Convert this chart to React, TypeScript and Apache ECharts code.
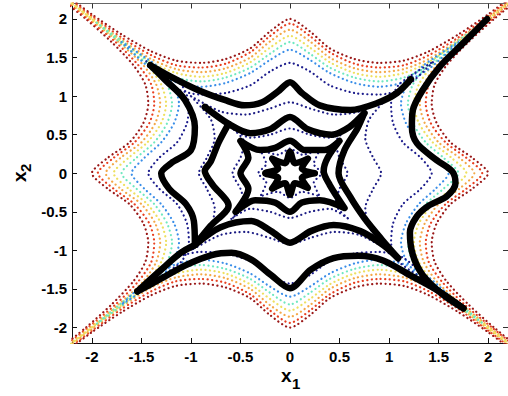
import React, { useEffect, useRef } from "react";
import * as echarts from "echarts";

// ---- tick labels ----
const xTicks = [-2, -1.5, -1, -0.5, 0, 0.5, 1, 1.5, 2];
const yTicks = [-2, -1.5, -1, -0.5, 0, 0.5, 1, 1.5, 2];

// ---- dotted level curves: one quarter-side profile [offset, distance] ----
const level1 = [[0, 2.0], [0.2, 1.84], [0.4, 1.62], [0.65, 1.48], [0.9, 1.43], [1.15, 1.46], [1.4, 1.58], [1.7, 1.8], [2.0, 2.06], [2.3, 2.35], [2.8, 2.85]];
const level2 = [[0, 1.94], [0.2, 1.78], [0.4, 1.57], [0.65, 1.42], [0.9, 1.37], [1.15, 1.4], [1.4, 1.53], [1.7, 1.76], [2.0, 2.04], [2.3, 2.33], [2.8, 2.83]];
const level3 = [[0, 1.86], [0.2, 1.71], [0.4, 1.5], [0.65, 1.36], [0.9, 1.31], [1.15, 1.35], [1.4, 1.48], [1.7, 1.73], [2.0, 2.02], [2.3, 2.31], [2.8, 2.81]];
const level4 = [[0, 1.78], [0.2, 1.63], [0.4, 1.44], [0.65, 1.3], [0.9, 1.25], [1.15, 1.3], [1.4, 1.44], [1.7, 1.71], [2.0, 2.0], [2.3, 2.3]];
const level5 = [[0, 1.7], [0.2, 1.55], [0.4, 1.37], [0.65, 1.24], [0.9, 1.19], [1.15, 1.24], [1.4, 1.39], [1.7, 1.68], [1.95, 1.95]];
const level6 = [[0, 1.6], [0.2, 1.47], [0.4, 1.3], [0.65, 1.17], [0.9, 1.12], [1.15, 1.18], [1.4, 1.35], [1.7, 1.7]];
const level7 = [[0, 1.43], [0.2, 1.32], [0.4, 1.14], [0.65, 1.04], [0.9, 1.02], [1.15, 1.1], [1.45, 1.45]];
const level8 = [[0, 0.92], [0.2, 0.84], [0.45, 0.76], [0.7, 0.8], [1.0, 1.0]];
const level9 = [[0, 0.58], [0.2, 0.5], [0.4, 0.46], [0.6, 0.6]];
const level10 = [[0, 0.32], [0.12, 0.24], [0.3, 0.3]];
const levelProfiles = [level1, level2, level3, level4, level5, level6, level7, level8, level9, level10];
const levelColors = ["#9a1818", "#e84020", "#f4a848", "#eee060", "#70e8c0", "#3a8ee8", "#1c1c8c", "#1c1c84", "#1c1c84", "#1c1c84"];

// ---- thick black trajectory pieces [x1, x2] ----
const blackRight = [[1.99, 2.0], [1.75, 1.69], [1.51, 1.38], [1.34, 1.08], [1.24, 0.82], [1.23, 0.6], [1.28, 0.39], [1.48, 0.17], [1.64, 0.02], [1.67, -0.13], [1.58, -0.3], [1.4, -0.42], [1.28, -0.56], [1.21, -0.77], [1.24, -1.06], [1.34, -1.32], [1.54, -1.57], [1.75, -1.75]];
const blackBottom = [[1.75, -1.75], [1.49, -1.52], [1.21, -1.32], [0.94, -1.13], [0.69, -1.07], [0.44, -1.1], [0.21, -1.25], [0, -1.49], [-0.19, -1.32], [-0.39, -1.12], [-0.59, -1.03], [-0.79, -1.06], [-1.05, -1.19], [-1.32, -1.38], [-1.54, -1.53]];
const blackDiag = [[-1.54, -1.53], [-1.3, -1.25], [-1.1, -1.03], [-0.96, -0.93]];
const blackLeft = [[-1.41, 1.4], [-1.26, 1.21], [-1.06, 0.95], [-0.96, 0.6], [-1.0, 0.3], [-1.2, 0.13], [-1.3, 0.0], [-1.22, -0.2], [-1.05, -0.4], [-0.97, -0.62], [-0.96, -0.93]];
const blackTop = [[-1.41, 1.4], [-1.2, 1.25], [-0.93, 1.08], [-0.66, 0.95], [-0.46, 0.88], [-0.28, 0.92], [-0.12, 1.06], [0, 1.18], [0.12, 1.04], [0.3, 0.88], [0.61, 0.82], [0.88, 0.91], [1.08, 1.04], [1.22, 1.22]];
const loop2Top = [[-0.86, 0.86], [-0.62, 0.64], [-0.4, 0.52], [-0.2, 0.57], [0, 0.73], [0.18, 0.57], [0.42, 0.5], [0.6, 0.6], [0.75, 0.78]];
const loop2Left = [[-0.62, 0.64], [-0.72, 0.4], [-0.8, 0.15], [-0.86, 0.03], [-0.78, -0.15], [-0.62, -0.42], [-0.8, -0.68], [-0.96, -0.93]];
const loop2Bottom = [[-0.96, -0.93], [-0.7, -0.7], [-0.39, -0.62], [-0.19, -0.75], [0, -0.9], [0.21, -0.75], [0.44, -0.67], [0.71, -0.75], [0.94, -0.93], [1.09, -1.1]];
const loop2Right = [[0.75, 0.78], [0.68, 0.58], [0.55, 0.3], [0.49, 0.0], [0.61, -0.31], [0.75, -0.58], [0.92, -0.85], [1.09, -1.1]];
const loop3 = [[-0.5, 0.42], [-0.3, 0.3], [-0.15, 0.33], [0, 0.42], [0.15, 0.3], [0.35, 0.3], [0.5, 0.42], [0.38, 0.2], [0.34, 0.03], [0.4, -0.15], [0.55, -0.45], [0.3, -0.35], [0.12, -0.38], [0, -0.5], [-0.15, -0.38], [-0.35, -0.35], [-0.55, -0.5], [-0.42, -0.2], [-0.5, 0.0], [-0.42, 0.2], [-0.5, 0.42]];
const innerStar = [[0.25, 0.0], [0.12, 0.06], [0.18, 0.19], [0.05, 0.13], [0, 0.28], [-0.05, 0.13], [-0.18, 0.19], [-0.12, 0.06], [-0.25, 0], [-0.12, -0.06], [-0.18, -0.2], [-0.05, -0.13], [0, -0.28], [0.05, -0.13], [0.18, -0.19], [0.12, -0.06], [0.25, 0]];
const blackPieces = [blackRight, blackBottom, blackDiag, blackLeft, blackTop, loop2Top, loop2Left, loop2Bottom, loop2Right, loop3, innerStar];

// build a closed 4-sided level curve from its quarter-side profile (mirror + rotate)
function loopFromProfile(p: number[][]): number[][] {
  const side: number[][] = [];
  for (let i = p.length - 1; i > 0; i--) side.push([-p[i][0], p[i][1]]);
  for (let i = 0; i < p.length; i++) side.push([p[i][0], p[i][1]]);
  const out: number[][] = [];
  side.forEach(([u, v]) => out.push([u, v])); // top
  side.forEach(([u, v]) => out.push([v, -u])); // right
  side.forEach(([u, v]) => out.push([-u, -v])); // bottom
  side.forEach(([u, v]) => out.push([-v, u])); // left
  out.push(out[0]);
  return out;
}

export default function App() {
  const ref = useRef<HTMLDivElement>(null);
  useEffect(() => {
    if (!ref.current) return;
    const chart = echarts.init(ref.current, undefined, { renderer: "svg" });
    const font = "Liberation Sans, Arial, sans-serif";
    const series: any[] = [];
    levelProfiles.forEach((p, i) => {
      series.push({
        type: "line",
        data: loopFromProfile(p),
        showSymbol: false,
        smooth: 0.25,
        clip: true,
        silent: true,
        lineStyle: { color: levelColors[i], width: 2.2, type: [0.1, 4.4], cap: "round" },
      });
    });
    blackPieces.forEach((p) => {
      series.push({
        type: "line",
        data: p,
        showSymbol: false,
        smooth: 0.3,
        clip: true,
        silent: true,
        lineStyle: { color: "#000", width: 6.5, cap: "round", join: "round" },
      });
    });
    const axisCommon = {
      type: "value",
      min: -2.2,
      max: 2.2,
      splitLine: { show: false },
      axisLine: { show: true, onZero: false, lineStyle: { color: "#111", width: 1 } },
    };
    chart.setOption({
      animation: false,
      grid: { left: 72, top: 3.5, width: 440, height: 339.5, containLabel: false },
      xAxis: [
        {
          ...axisCommon,
          position: "bottom",
          axisTick: { inside: true, length: 5, customValues: xTicks, lineStyle: { color: "#111" } },
          axisLabel: { customValues: xTicks, margin: 6, color: "#000", fontSize: 15, fontWeight: "bold", fontFamily: font },
        },
        {
          ...axisCommon,
          position: "top",
          axisLine: { show: true, onZero: false, lineStyle: { color: "#666", width: 1 } },
          axisTick: { inside: true, length: 5, customValues: xTicks, lineStyle: { color: "#333" } },
          axisLabel: { show: false },
        },
      ],
      yAxis: [
        {
          ...axisCommon,
          position: "left",
          axisTick: { inside: true, length: 5, customValues: yTicks, lineStyle: { color: "#111" } },
          axisLabel: { customValues: yTicks, margin: 5, color: "#000", fontSize: 15, fontWeight: "bold", fontFamily: font },
        },
        {
          ...axisCommon,
          position: "right",
          axisTick: { inside: true, length: 5, customValues: yTicks, lineStyle: { color: "#333" } },
          axisLabel: { show: false },
        },
      ],
      series,
      graphic: [
        { type: "text", left: 281, top: 366, style: { text: "x", fontSize: 19, fontWeight: "bold", fontFamily: font, fill: "#000" } },
        { type: "text", left: 292, top: 376, style: { text: "1", fontSize: 15, fontWeight: "bold", fontFamily: font, fill: "#000" } },
        { type: "text", x: 10, y: 182, rotation: Math.PI / 2, style: { text: "x", fontSize: 19, fontWeight: "bold", fontFamily: font, fill: "#000", textVerticalAlign: "top" } },
        { type: "text", x: 18, y: 172, rotation: Math.PI / 2, style: { text: "2", fontSize: 15, fontWeight: "bold", fontFamily: font, fill: "#000", textVerticalAlign: "top" } },
      ],
    });
    return () => chart.dispose();
  }, []);
  return <div ref={ref} style={{ position: "fixed", left: 0, top: 0, width: 508, height: 396, background: "#fff" }} />;
}
